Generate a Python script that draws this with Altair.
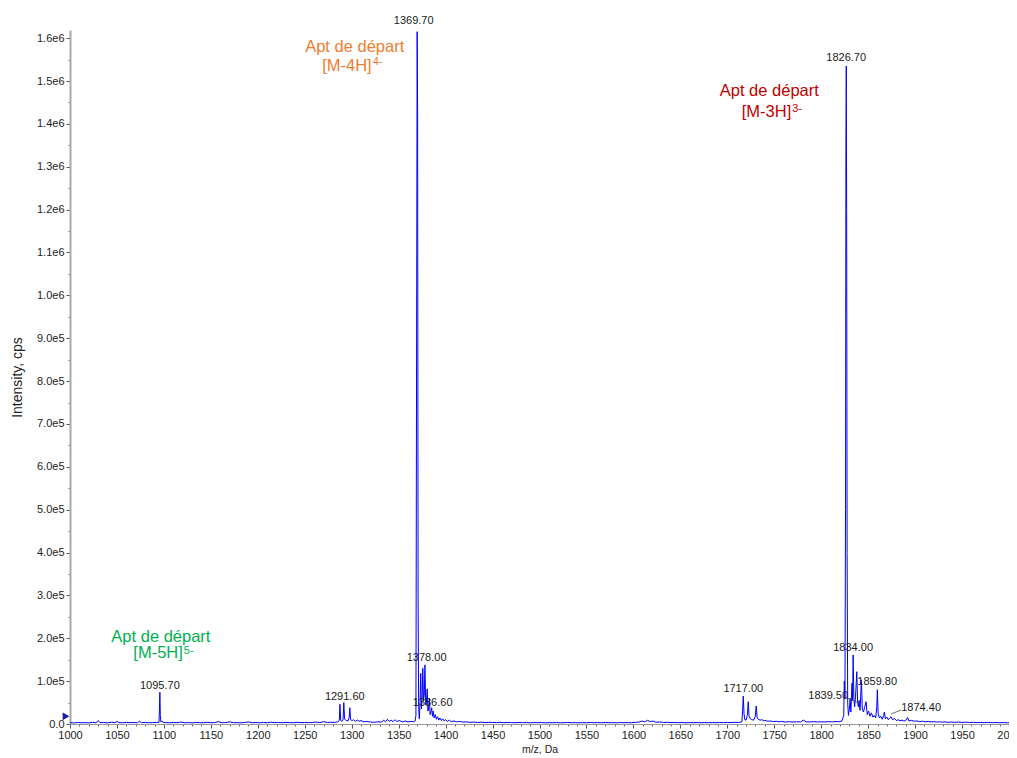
import altair as alt
import pandas as pd

# ---------------- spectrum profile (m/z, intensity in cps) ----------------
mz_s1 = [1000, 1004, 1008, 1012, 1016, 1020, 1024, 1028, 1030, 1032, 1036, 1040, 1044, 1048, 1050,
         1052, 1056, 1060, 1064, 1068, 1072, 1074, 1076, 1080, 1084, 1088, 1092, 1094.8, 1095.2, 1095.7,
         1096.2, 1096.8, 1098, 1099]
in_s1 = [3000, 2500, 3500, 2800, 3200, 2600, 3800, 2900, 8000, 3000, 3600, 2700, 4200, 3100, 6000,
         3300, 2900, 3700, 3000, 3400, 2800, 6500, 3100, 3500, 2900, 3300, 3600, 4000, 30000, 74000,
         20000, 5000, 7000, 4000]

mz_s2 = [1102, 1106, 1110, 1114, 1118, 1122, 1126, 1130, 1134, 1138, 1142, 1146, 1150, 1154, 1158,
         1162, 1166, 1170, 1174, 1178, 1182, 1186, 1190, 1194, 1198, 1202, 1206, 1210, 1214, 1218,
         1222, 1226, 1230, 1234, 1238, 1242, 1246, 1250, 1254, 1258, 1262, 1266, 1270, 1274, 1278,
         1282, 1285]
in_s2 = [3200, 2800, 3500, 3000, 4500, 2900, 3300, 2700, 3600, 3100, 2800, 3900, 3000, 3300, 5500,
         2900, 3400, 5000, 3000, 3200, 2700, 3500, 4800, 3000, 3300, 2800, 3600, 3000, 4200, 3100,
         3500, 2900, 3800, 3200, 3000, 4000, 3100, 3600, 3000, 3400, 4500, 3300, 5500, 3600, 4000,
         3800, 5000]

mz_s3 = [1286.8, 1287.5, 1288.3, 1289.5, 1290.8, 1291.6, 1292.4, 1294, 1296, 1297.3, 1298, 1298.8,
         1300.5, 1302, 1304, 1306, 1308, 1310, 1313, 1316, 1320, 1324, 1328, 1332, 1334, 1336, 1338,
         1340, 1342, 1344, 1346, 1348, 1351, 1354, 1357, 1360, 1363, 1366, 1367.5]
in_s3 = [8000, 46000, 9000, 6000, 10000, 50000, 12000, 8000, 7000, 15000, 38000, 10000,
         8000, 10000, 6000, 9000, 6500, 8000, 5000, 6000, 4500, 4000, 5000, 4500, 9000, 5000, 11000,
         6000, 9000, 5500, 10000, 6000, 8000, 5000, 7000, 5000, 6000, 5500, 7000]

mz_s4 = [1368.4, 1369.0, 1369.7, 1370.2, 1370.7, 1371.3, 1372.0, 1372.8, 1373.5, 1374.3, 1375.0,
         1375.7, 1376.5, 1377.3, 1378.0, 1378.8, 1379.6, 1380.4, 1381.2, 1382.0, 1382.7, 1383.5,
         1384.4, 1385.2, 1386.0, 1386.8, 1387.8, 1389.0, 1390.2, 1391.5, 1392.8, 1394.0, 1395.5,
         1397, 1398.5, 1400, 1402, 1404, 1406, 1409, 1412, 1415]
in_s4 = [20000, 730000, 1615000, 1430000, 300000, 40000, 12000, 50000, 118000, 35000, 60000,
         130000, 55000, 70000, 138000, 45000, 50000, 82000, 30000, 40000, 60000, 22000,
         28000, 38000, 18000, 30000, 14000, 22000, 11000, 17000, 9000, 14000, 8000,
         12000, 7000, 10000, 6000, 9000, 5500, 7000, 5000, 6000]

mz_s5 = [1418, 1422, 1426, 1430, 1434, 1438, 1442, 1446, 1450, 1454, 1458, 1462, 1466, 1470, 1474,
         1478, 1482, 1486, 1490, 1494, 1498, 1502, 1506, 1510, 1514, 1518, 1522, 1526, 1530, 1534,
         1538, 1542, 1546, 1550, 1554, 1558, 1562, 1566, 1570, 1574, 1578, 1582, 1586, 1590, 1594,
         1598, 1602, 1606, 1609, 1612, 1615, 1618, 1621, 1624, 1628, 1632, 1636, 1640, 1644, 1648,
         1652, 1656, 1660, 1664, 1668, 1672, 1676, 1680, 1684, 1688, 1692, 1696, 1700, 1704, 1708,
         1712, 1715.5]
in_s5 = [4500, 5000, 3800, 4500, 3500, 4200, 3300, 4000, 3600, 3200, 4100, 3000, 3700, 3200, 2900,
         3600, 3000, 3400, 2800, 3300, 3000, 3500, 2700, 3200, 2900, 3400, 2800, 3100, 3600, 2900,
         3300, 2700, 3200, 3000, 3500, 2800, 3300, 2900, 3400, 3000, 3200, 2700, 3500, 3000, 3300,
         2900, 3800, 4500, 7000, 5000, 8500, 5500, 7000, 4000, 4800, 3500, 4000, 3200, 3600, 3000,
         3400, 2900, 3300, 3000, 3500, 2900, 3300, 3000, 3400, 3000, 3600, 3200, 3800, 3300, 3900,
         3500, 5000]

mz_s6 = [1716.3, 1717.0, 1717.8, 1718.6, 1720, 1721.3, 1722.3, 1723.2, 1724.5, 1726, 1728, 1729.8,
         1730.8, 1731.8, 1733, 1735, 1737, 1739, 1741, 1743, 1746, 1749, 1752, 1755, 1758, 1762,
         1766, 1770, 1774, 1778, 1781, 1784, 1788, 1792, 1796, 1800, 1804, 1808, 1812, 1816, 1819,
         1822, 1824]
in_s6 = [30000, 65000, 25000, 10000, 9000, 20000, 52000, 18000, 12000, 10000, 9000, 18000,
         42000, 14000, 11000, 9000, 10000, 7500, 8000, 6500, 7000, 5500, 6500, 5000, 6000, 4500,
         5500, 4500, 5200, 4800, 9000, 5000, 4800, 5500, 4600, 5200, 4800, 5500, 5000, 6000, 5200,
         7000, 20000]

mz_s7 = [1824.6, 1825.3, 1825.9, 1826.3, 1826.7, 1827.1, 1827.6, 1828.2, 1829, 1830, 1830.8, 1831.6,
         1832.8, 1833.4, 1834.0, 1834.8, 1835.6, 1836.6, 1837.9, 1838.8, 1839.6, 1840.4, 1841.4,
         1842.8, 1843.8, 1845, 1846.2, 1847.8, 1849, 1850.5, 1852, 1853.5, 1855, 1856.5, 1858,
         1859.2, 1859.8, 1860.6, 1862, 1863.5, 1865, 1866.5, 1867.3, 1868.3, 1870, 1871.5, 1873,
         1874.4, 1876, 1878, 1880, 1882, 1884, 1886, 1888, 1890, 1892, 1893.5, 1896, 1899, 1902,
         1905, 1908, 1911, 1914, 1917, 1920, 1923, 1926, 1929, 1932, 1935, 1938, 1942, 1946, 1950,
         1954, 1958, 1962, 1966, 1970, 1974, 1978, 1982, 1986, 1990, 1994, 1998, 2000]
in_s7 = [100000, 60000, 500000, 1330000, 1535000, 1200000, 400000, 50000, 20000, 35000, 60000, 28000,
         95000, 55000, 161000, 60000, 40000, 65000, 122000, 50000, 40000, 55000, 32000,
         103000, 35000, 28000, 38000, 52000, 22000, 30000, 18000, 26000, 16000, 20000, 14000,
         40000, 80000, 25000, 14000, 18000, 11000, 20000, 28000, 12000, 16000, 10000, 14000,
         17000, 10000, 13000, 8000, 10000, 7500, 9000, 7000, 8000, 15000, 7000, 8500, 6500, 7000,
         5500, 6500, 5000, 6000, 4800, 5500, 4500, 5200, 4300, 5000, 4000, 4600, 3800, 4500, 3600,
         4200, 3500, 4000, 3300, 3800, 3200, 3600, 3000, 3500, 2900, 3300, 2800, 3000]

# ---------------- peak labels ----------------
peak_text = ["1095.70", "1291.60", "1369.70", "1378.00", "1386.60", "1717.00",
             "1826.70", "1834.00", "1839.50", "1859.80", "1874.40"]
peak_lab_mz = [1095.7, 1292.6, 1366.0, 1379.8, 1386.2, 1717.0,
               1826.6, 1834.0, 1807.4, 1859.6, 1906.4]
peak_lab_int = [88600, 63700, 1639700, 153900, 49000, 81600,
                1554500, 177300, 65300, 98000, 37300]

# leader lines for the two offset labels
lead_mz1 = [1827.4, 1885.1]
lead_int1 = [60600, 32700]
lead_mz2 = [1840.2, 1874.5]
lead_int2 = [49000, 23300]

# ---------------- coloured annotations ----------------
ann_colors = ["#ED7D31", "#C00000", "#00B050"]
ann_title_text = ["Apt de départ", "Apt de départ", "Apt de départ"]
ann_title_mz = [1303.2, 1744.7, 1096.8]
ann_title_int = [1580200, 1476000, 204100]
ann_ion_text = ["[M-4H]", "[M-3H]", "[M-5H]"]
ann_ion_mz = [1321.3, 1768.1, 1120.2]
ann_ion_int = [1534700, 1428600, 165600]
ann_charge_text = ["4-", "3-", "5-"]
ann_charge_mz = [1322.3, 1769.1, 1121.2]
ann_charge_int = [1544000, 1434400, 171400]

# axis ticks
x_tick_values = [1000, 1050, 1100, 1150, 1200, 1250, 1300, 1350, 1400, 1450, 1500,
                 1550, 1600, 1650, 1700, 1750, 1800, 1850, 1900, 1950, 2000]
x_minor_values = [v for v in range(1000, 2001, 10)]
y_tick_values = [0, 100000, 200000, 300000, 400000, 500000, 600000, 700000, 800000,
                 900000, 1000000, 1100000, 1200000, 1300000, 1400000, 1500000, 1600000]
y_minor_values = [v + 50000 for v in y_tick_values[:-1]]
marker_int = [18000]

FONT = "Liberation Sans"

mz_all, in_all = [], []
for m, i in [(mz_s1, in_s1), (mz_s2, in_s2), (mz_s3, in_s3), (mz_s4, in_s4),
             (mz_s5, in_s5), (mz_s6, in_s6), (mz_s7, in_s7)]:
    assert len(m) == len(i)
    mz_all += m
    in_all += i
spec = pd.DataFrame({"mz": mz_all, "intensity": in_all})

x_scale = alt.Scale(domain=[1000, 2000], nice=False, zero=False)
y_scale = alt.Scale(domain=[0, 1619000], nice=False, zero=True)

y_label_expr = ("datum.value == 0 ? '0.0' : (datum.value < 1000000 ? "
                "format(datum.value/100000, '.1f') + 'e5' : format(datum.value/1000000, '.1f') + 'e6')")

x_axis = alt.Axis(values=x_tick_values, format="d", orient="bottom", grid=False,
                  labelFont=FONT, labelFontSize=11, labelColor="#222", labelPadding=1,
                  labelFlush=False, labelOverlap=False,
                  tickSize=4, tickColor="#555", domainColor="#999", domainWidth=1,
                  title="m/z, Da", titleFont=FONT, titleFontSize=10.5, titleFontWeight="normal",
                  titleColor="#222", titleY=28, titleBaseline="alphabetic")
y_axis = alt.Axis(values=y_tick_values, labelExpr=y_label_expr, orient="left", grid=False,
                  labelFont=FONT, labelFontSize=11, labelColor="#222", labelPadding=2,
                  labelFlush=False, labelOverlap=False,
                  tickSize=4, tickColor="#555", domainColor="#aaa", domainWidth=2,
                  title="Intensity, cps", titleFont=FONT, titleFontSize=14,
                  titleFontWeight="normal", titleColor="#222", titlePadding=12)
x_minor_axis = alt.Axis(values=x_minor_values, orient="bottom", labels=False, domain=False,
                        grid=False, tickSize=2, tickColor="#666", title=None)
y_minor_axis = alt.Axis(values=y_minor_values, orient="left", labels=False, domain=False,
                        grid=False, tickSize=2, tickColor="#666", title=None)

minor = alt.Chart(spec).mark_line(opacity=0).encode(
    x=alt.X("mz:Q", scale=x_scale, axis=x_minor_axis),
    y=alt.Y("intensity:Q", scale=y_scale, axis=y_minor_axis),
)

line = alt.Chart(spec).mark_line(color="#0000FF", strokeWidth=1).encode(
    x=alt.X("mz:Q", scale=x_scale, axis=x_axis),
    y=alt.Y("intensity:Q", scale=y_scale, axis=y_axis),
)

peaks = alt.Chart(pd.DataFrame({"mz": peak_lab_mz, "intensity": peak_lab_int, "label": peak_text})).mark_text(
    font=FONT, fontSize=11, color="#1a1a1a", align="center", baseline="middle"
).encode(
    x=alt.X("mz:Q", scale=x_scale, axis=None),
    y=alt.Y("intensity:Q", scale=y_scale, axis=None),
    text="label:N",
)

leaders = alt.Chart(pd.DataFrame({"mz": lead_mz1, "intensity": lead_int1,
                                  "mz2": lead_mz2, "int2": lead_int2})).mark_rule(
    color="#444", strokeWidth=0.8
).encode(
    x=alt.X("mz:Q", scale=x_scale, axis=None),
    x2="mz2:Q",
    y=alt.Y("intensity:Q", scale=y_scale, axis=None),
    y2="int2:Q",
)


def ann_layer(texts, mzs, ints, size, align):
    df = pd.DataFrame({"mz": mzs, "intensity": ints, "label": texts, "color": ann_colors})
    return alt.Chart(df).mark_text(font=FONT, fontSize=size, align=align, baseline="middle").encode(
        x=alt.X("mz:Q", scale=x_scale, axis=None),
        y=alt.Y("intensity:Q", scale=y_scale, axis=None),
        text="label:N",
        color=alt.Color("color:N", scale=None),
    )


ann1 = ann_layer(ann_title_text, ann_title_mz, ann_title_int, 16.5, "center")
ann2 = ann_layer(ann_ion_text, ann_ion_mz, ann_ion_int, 16.5, "right")
ann3 = ann_layer(ann_charge_text, ann_charge_mz, ann_charge_int, 11, "left")

marker = alt.Chart(pd.DataFrame({"intensity": marker_int})).mark_point(
    shape="triangle-right", filled=True, color="#1c1ca0", size=60, opacity=1
).encode(
    x=alt.value(-4),
    y=alt.Y("intensity:Q", scale=y_scale, axis=None),
)

chart = alt.layer(minor, line, leaders, peaks, ann1, ann2, ann3, marker).resolve_axis(
    x="independent", y="independent"
).properties(
    width=939, height=694,
    autosize=alt.AutoSizeParams(type="none"),
    padding={"left": 62, "top": 22, "right": 0, "bottom": 30},
    background="white",
).configure(font=FONT).configure_view(stroke=None)

chart.save("out.html", embed_options={"renderer": "svg", "actions": False})
